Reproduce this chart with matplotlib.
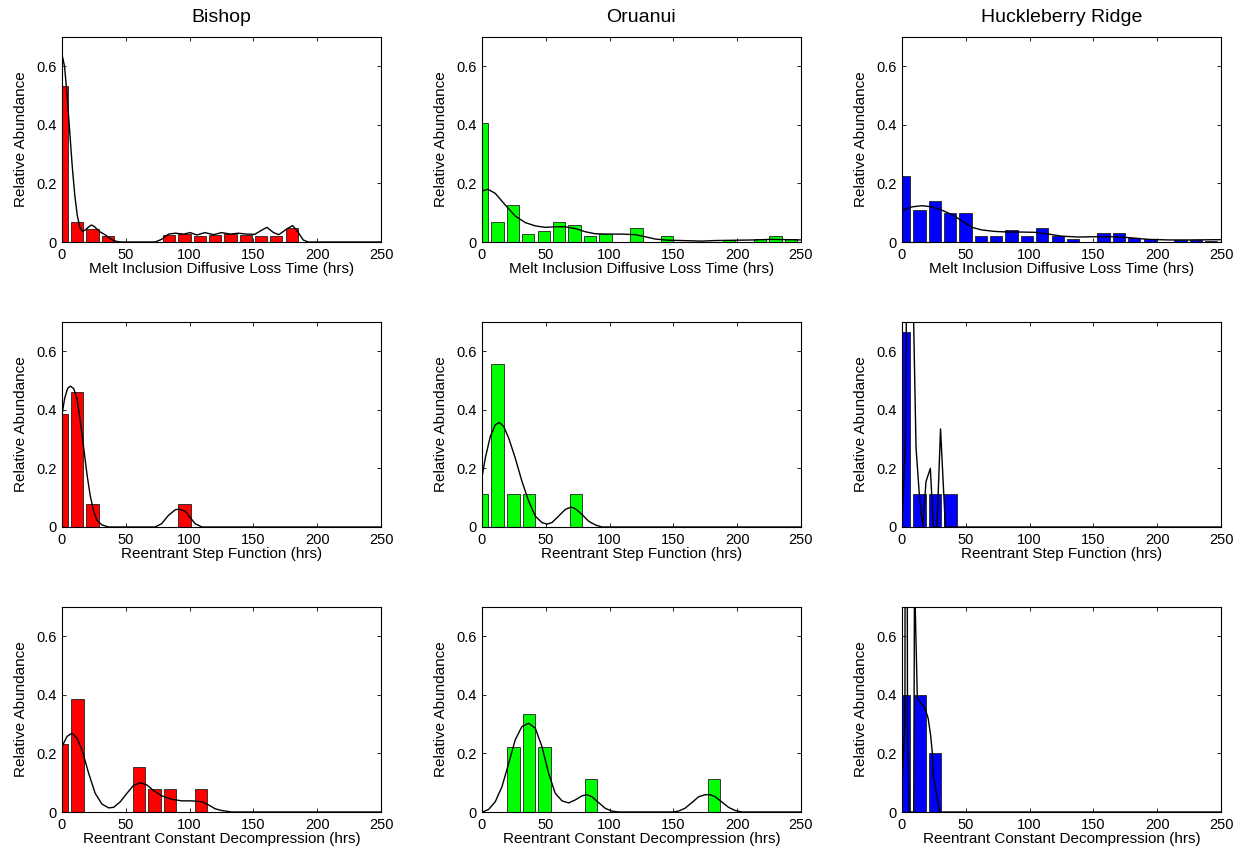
import matplotlib
matplotlib.use("Agg")
import matplotlib.pyplot as plt

plt.rcParams['font.family'] = ['Liberation Sans', 'DejaVu Sans']

# ---------------- data ----------------
titles = ["Bishop", "Oruanui", "Huckleberry Ridge"]
row_xlabels = ["Melt Inclusion Diffusive Loss Time (hrs)",
               "Reentrant Step Function (hrs)",
               "Reentrant Constant Decompression (hrs)"]
ylabel = "Relative Abundance"
colors = ["#ff0000", "#00ff00", "#0000ff"]
xticks = [0, 50, 100, 150, 200, 250]
yticks = [0, 0.2, 0.4, 0.6]
ytick_labels = ["0", "0.2", "0.4", "0.6"]

# Row 1: melt inclusion diffusive loss time
bishop_melt_centers = [0, 12, 24, 36, 84, 96, 108, 120, 132, 144, 156, 168, 180]
bishop_melt_heights = [0.533, 0.067, 0.044, 0.022, 0.024, 0.026, 0.022, 0.024, 0.026, 0.024, 0.022, 0.022, 0.048]
bishop_melt_curve_x = [0, 2, 4, 6, 8, 10, 12, 14, 16, 18.3, 21, 23, 25, 27.4, 30, 34, 37, 40.5, 44, 47, 73, 78,
                       83.5, 88.8, 95.3, 100.5, 105.7, 112, 118.8, 125, 132, 138, 145, 151, 156.7, 160.6,
                       165.8, 170, 176, 180.7, 184.8, 189, 193, 250]
bishop_melt_curve_y = [0.64, 0.6, 0.5, 0.38, 0.26, 0.16, 0.09, 0.05, 0.036, 0.041, 0.052, 0.058, 0.054, 0.044,
                       0.034, 0.024, 0.014, 0.005, 0.001, 0, 0, 0.009, 0.027, 0.03, 0.027, 0.032, 0.024, 0.032,
                       0.025, 0.032, 0.027, 0.03, 0.027, 0.026, 0.041, 0.05, 0.032, 0.025, 0.044, 0.056, 0.035,
                       0.007, 0, 0]

oruanui_melt_centers = [0, 12.1, 24.2, 36.3, 48.4, 60.5, 72.6, 84.7, 96.8, 121, 145.2, 193.6, 217.8, 229.9, 242]
oruanui_melt_heights = [0.408, 0.067, 0.127, 0.028, 0.038, 0.067, 0.059, 0.020, 0.028, 0.048, 0.019, 0.007,
                        0.010, 0.020, 0.010]
oruanui_melt_curve_x = [0, 4.7, 10.4, 18.3, 26, 34, 41.8, 49.6, 57.4, 65, 73, 81, 88.8, 99, 109.7, 120, 128,
                        135.8, 146, 156.7, 172, 182.8, 198, 214, 227, 237.6, 250]
oruanui_melt_curve_y = [0.174, 0.18, 0.166, 0.126, 0.089, 0.066, 0.055, 0.05, 0.052, 0.052, 0.046, 0.035, 0.028,
                        0.027, 0.027, 0.025, 0.018, 0.01, 0.006, 0.005, 0.003, 0.005, 0.006, 0.007, 0.009,
                        0.008, 0.007]

huck_melt_centers = [1.7, 13.7, 25.8, 37.8, 49.8, 61.8, 73.9, 85.9, 97.9, 109.9, 122, 134, 158, 170.1, 182.1,
                     194.1, 218.2, 230.2, 242.2]
huck_melt_heights = [0.226, 0.109, 0.139, 0.099, 0.098, 0.02, 0.02, 0.04, 0.02, 0.049, 0.022, 0.011, 0.03,
                     0.03, 0.014, 0.011, 0.008, 0.008, 0.004]
huck_melt_curve_x = [0, 7.8, 15.7, 23.5, 31, 39, 47, 54.8, 62.7, 73, 83.5, 94, 104.4, 114.9, 125, 138, 151,
                     164, 177.5, 193, 209, 224.5, 250]
huck_melt_curve_y = [0.108, 0.12, 0.124, 0.12, 0.109, 0.094, 0.072, 0.05, 0.041, 0.036, 0.034, 0.034, 0.033,
                     0.027, 0.02, 0.017, 0.018, 0.018, 0.015, 0.009, 0.007, 0.007, 0.008]

# Row 2: reentrant step function
bishop_step_centers = [0, 12, 24, 96]
bishop_step_heights = [0.385, 0.462, 0.077, 0.077]
bishop_step_curve_x = [0, 2.1, 4.4, 6.5, 9.1, 11.7, 14.4, 17, 19.6, 22.2, 24.8, 27.4, 31.3, 36.6, 73, 78, 83.5,
                       88.8, 91.9, 96.6, 100.5, 104.4, 109.7, 250]
bishop_step_curve_y = [0.383, 0.44, 0.473, 0.481, 0.473, 0.44, 0.36, 0.27, 0.179, 0.105, 0.054, 0.023, 0.007,
                       0, 0, 0.011, 0.04, 0.059, 0.061, 0.054, 0.032, 0.011, 0, 0]

oruanui_step_centers = [0, 12.25, 24.5, 36.75, 73.5]
oruanui_step_heights = [0.111, 0.556, 0.111, 0.111, 0.111]
oruanui_step_curve_x = [0, 2.6, 6.5, 10.4, 13.6, 17, 20.9, 26, 31.3, 36.6, 41.8, 47, 50.9, 54.8, 60, 65.3, 69.7,
                        73, 78.3, 83.5, 88.8, 94, 250]
oruanui_step_curve_y = [0.17, 0.236, 0.309, 0.349, 0.357, 0.343, 0.304, 0.236, 0.156, 0.088, 0.037, 0.015, 0.01,
                        0.015, 0.037, 0.06, 0.068, 0.063, 0.043, 0.02, 0.007, 0, 0]

huck_step_centers = [1.7, 13.8, 25.9, 38.0]
huck_step_heights = [0.667, 0.111, 0.111, 0.111]
huck_step_curve_x = [0, 2.75, 5.5, 8.25, 11.0, 13.6, 16.3, 18.8, 22.2, 24.6, 27.4, 30.2, 34.0, 40, 250]
huck_step_curve_y = [0.0, 0.3, 2.0, 0.9, 0.27, 0.11, 0.0, 0.155, 0.2, 0.0, 0.0, 0.335, 0.0, 0, 0]

# Row 3: reentrant constant decompression
bishop_const_centers = [0, 12.1, 60.5, 72.6, 84.7, 108.9]
bishop_const_heights = [0.231, 0.385, 0.154, 0.077, 0.077, 0.077]
bishop_const_curve_x = [0, 3.9, 7.8, 11.7, 15.7, 20.9, 26, 31.3, 36.6, 40.5, 45.7, 50.9, 56.1, 61.4, 66.6, 71.8,
                        78.3, 86.2, 94, 101.8, 109.7, 114.9, 120, 125.3, 133, 250]
bishop_const_curve_y = [0.223, 0.258, 0.269, 0.252, 0.212, 0.132, 0.064, 0.027, 0.014, 0.016, 0.035, 0.064,
                        0.091, 0.1, 0.092, 0.073, 0.055, 0.043, 0.038, 0.038, 0.035, 0.024, 0.011, 0.005, 0, 0]

oruanui_const_centers = [24.8, 36.9, 49.0, 85.2, 181.7]
oruanui_const_heights = [0.222, 0.333, 0.222, 0.111, 0.111]
oruanui_const_curve_x = [0.5, 5.2, 10.4, 15.7, 20.9, 26, 31.3, 36.6, 41.8, 47, 52.2, 57.4, 62.7, 67.9, 73, 78.3,
                         82.2, 86.2, 91.4, 96.6, 101.8, 107, 148.8, 154, 159, 164.5, 169.7, 174.9, 178.9, 182.8,
                         188, 193.2, 198.4, 203.7, 250]
oruanui_const_curve_y = [0, 0.009, 0.035, 0.087, 0.166, 0.246, 0.292, 0.303, 0.286, 0.223, 0.132, 0.064, 0.038,
                         0.031, 0.041, 0.055, 0.059, 0.052, 0.032, 0.0125, 0.003, 0, 0, 0.003, 0.0125, 0.032,
                         0.052, 0.059, 0.059, 0.052, 0.034, 0.016, 0.005, 0, 0]

huck_const_centers = [1.7, 14.0, 26.1]
huck_const_heights = [0.4, 0.4, 0.2]
huck_const_curve_x = [0, 2.3, 2.6, 3.9, 4.3, 5.5, 9.2, 9.8, 12.0, 15.0, 18.0, 20.5, 22.5, 23.8, 24.3, 29.5, 250]
huck_const_curve_y = [0.1, 0.3, 1.6, 1.6, 0.3, 0.0, 0.0, 0.81, 0.39, 0.37, 0.355, 0.32, 0.26, 0.2, 0.13, 0.0, 0]

panels = [
    [(bishop_melt_centers, bishop_melt_heights, bishop_melt_curve_x, bishop_melt_curve_y, 12.0),
     (oruanui_melt_centers, oruanui_melt_heights, oruanui_melt_curve_x, oruanui_melt_curve_y, 12.1),
     (huck_melt_centers, huck_melt_heights, huck_melt_curve_x, huck_melt_curve_y, 12.0)],
    [(bishop_step_centers, bishop_step_heights, bishop_step_curve_x, bishop_step_curve_y, 12.0),
     (oruanui_step_centers, oruanui_step_heights, oruanui_step_curve_x, oruanui_step_curve_y, 12.25),
     (huck_step_centers, huck_step_heights, huck_step_curve_x, huck_step_curve_y, 12.1)],
    [(bishop_const_centers, bishop_const_heights, bishop_const_curve_x, bishop_const_curve_y, 12.1),
     (oruanui_const_centers, oruanui_const_heights, oruanui_const_curve_x, oruanui_const_curve_y, 12.1),
     (huck_const_centers, huck_const_heights, huck_const_curve_x, huck_const_curve_y, 12.1)],
]

# ---------------- layout ----------------
W, H = 1253, 860
fig = plt.figure(figsize=(W / 100, H / 100), dpi=100)
col_left = [62, 482, 902]
row_top = [37, 322, 607]
ax_w, ax_h = 319, 205

for r in range(3):
    for c in range(3):
        centers, heights, cx, cy, binw = panels[r][c]
        ax = fig.add_axes([col_left[c] / W, 1 - (row_top[r] + ax_h) / H, ax_w / W, ax_h / H])
        ax.bar(centers, heights, width=0.8 * binw, color=colors[c], edgecolor="#202020",
               linewidth=0.6, zorder=2)
        ax.plot(cx, cy, color="black", linewidth=1.0, zorder=3)
        ax.set_xlim(0, 250)
        ax.set_ylim(0, 0.7)
        ax.set_xticks(xticks)
        ax.set_yticks(yticks)
        ax.set_yticklabels(ytick_labels)
        ax.tick_params(direction="in", top=True, right=True, length=3, width=0.6,
                       labelsize=10.5, pad=4, colors="black")
        for s in ax.spines.values():
            s.set_linewidth(0.8)
        ax.set_xlabel(row_xlabels[r], fontsize=11, labelpad=0)
        ax.set_ylabel(ylabel, fontsize=11, labelpad=6)
        if r == 0:
            ax.set_title(titles[c], fontsize=14, pad=11)

fig.savefig("out.png", dpi=100)
